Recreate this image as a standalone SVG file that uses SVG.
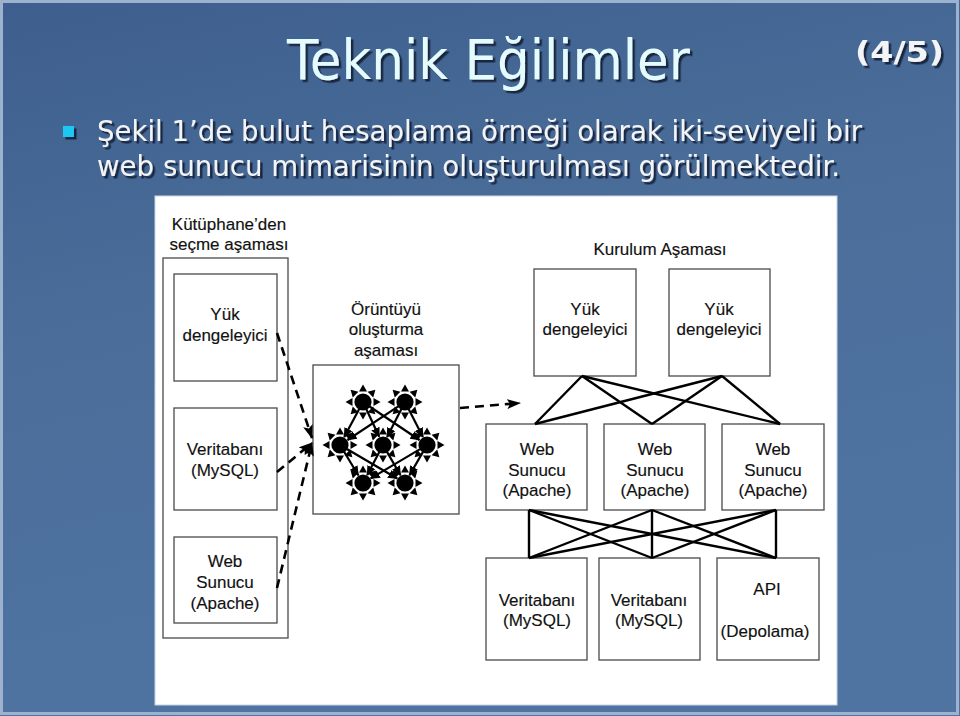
<svg xmlns="http://www.w3.org/2000/svg" width="960" height="716" viewBox="0 0 960 716">
  <defs>
    <linearGradient id="bg" x1="0" y1="0" x2="0.3" y2="1">
      <stop offset="0" stop-color="#3e5f8d"/>
      <stop offset="0.45" stop-color="#4a6d9a"/>
      <stop offset="1" stop-color="#5074a1"/>
    </linearGradient>
    <filter id="shadow" x="-5%" y="-20%" width="110%" height="140%">
      <feDropShadow dx="2.5" dy="2.5" stdDeviation="0.6" flood-color="#15233d" flood-opacity="0.95"/>
    </filter>
    <marker id="ah" markerUnits="userSpaceOnUse" markerWidth="10" markerHeight="9" refX="9" refY="4.5" orient="auto">
      <path d="M0,0 L10,4.5 L0,9 z" fill="#000"/>
    </marker>
    <marker id="dah" markerUnits="userSpaceOnUse" markerWidth="14" markerHeight="10" refX="13" refY="5" orient="auto">
      <path d="M0,0 L14,5 L0,10 L3,5 z" fill="#000"/>
    </marker>
    <g id="star">
      <circle r="8.6" fill="#000"/>
      <g fill="#000">
        <path d="M0,-17.5 L-4,-10.5 L4,-10.5 z"/>
        <path d="M0,-17.5 L-4,-10.5 L4,-10.5 z" transform="rotate(45)"/>
        <path d="M0,-17.5 L-4,-10.5 L4,-10.5 z" transform="rotate(90)"/>
        <path d="M0,-17.5 L-4,-10.5 L4,-10.5 z" transform="rotate(135)"/>
        <path d="M0,-17.5 L-4,-10.5 L4,-10.5 z" transform="rotate(180)"/>
        <path d="M0,-17.5 L-4,-10.5 L4,-10.5 z" transform="rotate(225)"/>
        <path d="M0,-17.5 L-4,-10.5 L4,-10.5 z" transform="rotate(270)"/>
        <path d="M0,-17.5 L-4,-10.5 L4,-10.5 z" transform="rotate(315)"/>
      </g>
    </g>
  </defs>
  <style>
    .slide { font-family: "DejaVu Sans", "Noto Sans", sans-serif; }
    .title { font-size: 56px; fill: #e4fbff; }
    .body { font-size: 29px; fill: #f2f4f6; }
    .page { font-size: 28px; font-weight: bold; fill: #f2f4f6; }
    .box { fill: #fff; stroke: #4a4a4a; stroke-width: 1.3; }
    .lbl { font-family: "Liberation Sans", Arial, sans-serif; font-size: 17px; fill: #111; text-anchor: middle; stroke: #111; stroke-width: 0.15; }
    .link { stroke: #000; stroke-width: 2.4; fill: none; }
    .net { stroke: #000; stroke-width: 2.2; fill: none; marker-end: url(#ah); }
    .dash { stroke: #000; stroke-width: 2.6; fill: none; stroke-dasharray: 9 6; marker-end: url(#dah); }
  </style>

  <!-- background -->
  <rect x="0" y="0" width="960" height="716" fill="url(#bg)"/>
  <rect x="1.5" y="1.5" width="956" height="712" fill="none" stroke="#9db2cf" stroke-width="3"/>

  <!-- slide texts -->
  <g class="slide" filter="url(#shadow)">
    <text class="title" x="287" y="79" textLength="403" lengthAdjust="spacingAndGlyphs">Teknik Eğilimler</text>
    <text class="page" x="855" y="62" textLength="89" lengthAdjust="spacingAndGlyphs">(4/5)</text>
    <rect x="63" y="126" width="11" height="11" fill="#1ec8f2"/>
    <text class="body" x="97" y="141" textLength="765" lengthAdjust="spacingAndGlyphs">Şekil 1’de bulut hesaplama örneği olarak iki-seviyeli bir</text>
    <text class="body" x="97" y="176" textLength="743" lengthAdjust="spacingAndGlyphs">web sunucu mimarisinin oluşturulması görülmektedir.</text>
  </g>

  <!-- figure panel -->
  <rect x="155" y="196" width="682" height="509" fill="#fff" stroke="#c9d5e6" stroke-width="1"/>

  <!-- left stage -->
  <g id="library-stage">
    <text class="lbl" x="229" y="230">Kütüphane’den</text>
    <text class="lbl" x="229" y="250">seçme aşaması</text>
    <rect class="box" x="163" y="258" width="125" height="380"/>
  </g>
  <g id="lib-lb">
    <rect class="box" x="174" y="274" width="103" height="107"/>
    <text class="lbl" x="225" y="320">Yük</text>
    <text class="lbl" x="225" y="341">dengeleyici</text>
  </g>
  <g id="lib-db">
    <rect class="box" x="174" y="408" width="103" height="102"/>
    <text class="lbl" x="225" y="455">Veritabanı</text>
    <text class="lbl" x="225" y="476">(MySQL)</text>
  </g>
  <g id="lib-web">
    <rect class="box" x="174" y="537" width="103" height="86"/>
    <text class="lbl" x="225" y="567">Web</text>
    <text class="lbl" x="225" y="588">Sunucu</text>
    <text class="lbl" x="225" y="609">(Apache)</text>
  </g>

  <!-- pattern stage -->
  <g id="pattern-stage">
    <text class="lbl" x="386" y="315">Örüntüyü</text>
    <text class="lbl" x="386" y="335">oluşturma</text>
    <text class="lbl" x="386" y="356">aşaması</text>
    <rect class="box" x="313" y="365" width="146" height="149"/>
    <use href="#star" x="363" y="402"/>
    <use href="#star" x="405" y="402"/>
    <use href="#star" x="340" y="445"/>
    <use href="#star" x="383" y="445"/>
    <use href="#star" x="427" y="445"/>
    <use href="#star" x="363" y="483"/>
    <use href="#star" x="405" y="483"/>
    <g>
      <line class="net" x1="359.2" y1="409.1" x2="344.2" y2="437.1"/>
      <line class="net" x1="366.4" y1="409.3" x2="379.2" y2="436.8"/>
      <line class="net" x1="369.6" y1="406.5" x2="419.5" y2="440.0"/>
      <line class="net" x1="398.3" y1="406.4" x2="347.5" y2="440.0"/>
      <line class="net" x1="401.4" y1="409.1" x2="387.1" y2="437.0"/>
      <line class="net" x1="408.6" y1="409.1" x2="422.9" y2="437.0"/>
      <line class="net" x1="344.1" y1="451.8" x2="358.3" y2="475.3"/>
      <line class="net" x1="346.9" y1="449.0" x2="397.2" y2="478.5"/>
      <line class="net" x1="379.3" y1="452.1" x2="367.2" y2="475.0"/>
      <line class="net" x1="387.0" y1="451.9" x2="400.5" y2="475.2"/>
      <line class="net" x1="420.1" y1="449.1" x2="370.7" y2="478.4"/>
      <line class="net" x1="423.0" y1="451.9" x2="409.5" y2="475.2"/>
    </g>
  </g>

  <!-- deployment stage -->
  <text class="lbl" x="660" y="255">Kurulum Aşaması</text>
  <g id="lb1">
    <rect class="box" x="534" y="269" width="102" height="107"/>
    <text class="lbl" x="585" y="315">Yük</text>
    <text class="lbl" x="585" y="335">dengeleyici</text>
  </g>
  <g id="lb2">
    <rect class="box" x="669" y="269" width="101" height="107"/>
    <text class="lbl" x="719" y="315">Yük</text>
    <text class="lbl" x="719" y="335">dengeleyici</text>
  </g>
  <g id="web1">
    <rect class="box" x="486" y="424" width="101" height="86"/>
    <text class="lbl" x="537" y="455">Web</text>
    <text class="lbl" x="537" y="476">Sunucu</text>
    <text class="lbl" x="537" y="496">(Apache)</text>
  </g>
  <g id="web2">
    <rect class="box" x="604" y="424" width="101" height="86"/>
    <text class="lbl" x="655" y="455">Web</text>
    <text class="lbl" x="655" y="476">Sunucu</text>
    <text class="lbl" x="655" y="496">(Apache)</text>
  </g>
  <g id="web3">
    <rect class="box" x="722" y="424" width="102" height="86"/>
    <text class="lbl" x="773" y="455">Web</text>
    <text class="lbl" x="773" y="476">Sunucu</text>
    <text class="lbl" x="773" y="496">(Apache)</text>
  </g>
  <g id="db1">
    <rect class="box" x="486" y="558" width="101" height="102"/>
    <text class="lbl" x="537" y="606">Veritabanı</text>
    <text class="lbl" x="537" y="626">(MySQL)</text>
  </g>
  <g id="db2">
    <rect class="box" x="599" y="558" width="101" height="102"/>
    <text class="lbl" x="649" y="606">Veritabanı</text>
    <text class="lbl" x="649" y="626">(MySQL)</text>
  </g>
  <g id="api">
    <rect class="box" x="717" y="558" width="102" height="102"/>
    <text class="lbl" x="767" y="595">API</text>
    <text class="lbl" x="765" y="637">(Depolama)</text>
  </g>

  <!-- connectors -->
  <g id="connectors">
    <line class="link" x1="582" y1="376" x2="535" y2="424"/>
    <line class="link" x1="582" y1="376" x2="652" y2="424"/>
    <line class="link" x1="582" y1="376" x2="780" y2="424"/>
    <line class="link" x1="722" y1="376" x2="535" y2="424"/>
    <line class="link" x1="722" y1="376" x2="652" y2="424"/>
    <line class="link" x1="722" y1="376" x2="780" y2="424"/>

    <line class="link" x1="529" y1="510" x2="529" y2="558"/>
    <line class="link" x1="529" y1="510" x2="652" y2="558"/>
    <line class="link" x1="529" y1="510" x2="776" y2="558"/>
    <line class="link" x1="652" y1="510" x2="529" y2="558"/>
    <line class="link" x1="652" y1="510" x2="652" y2="558"/>
    <line class="link" x1="652" y1="510" x2="776" y2="558"/>
    <line class="link" x1="776" y1="510" x2="529" y2="558"/>
    <line class="link" x1="776" y1="510" x2="652" y2="558"/>
    <line class="link" x1="776" y1="510" x2="776" y2="558"/>

    <line class="dash" x1="277" y1="333" x2="312" y2="438"/>
    <line class="dash" x1="277" y1="472" x2="312" y2="443"/>
    <line class="dash" x1="277" y1="588" x2="312" y2="443"/>
    <line class="dash" x1="460" y1="408" x2="520" y2="403"/>
  </g>
</svg>
